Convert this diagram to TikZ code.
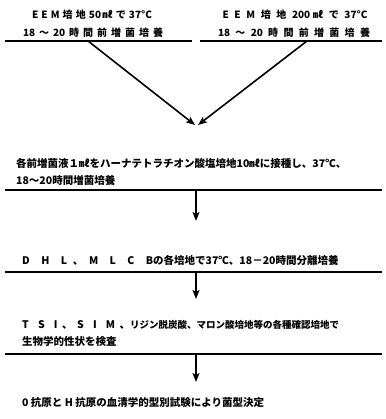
\documentclass[tikz,border=0pt]{standalone}
\usepackage{fontspec}
\newfontfamily\jp{Noto Sans CJK JP}
\usetikzlibrary{arrows.meta}
\newcommand{\spread}[2]{\makebox[#1][s]{#2}}
\begin{document}
\begin{tikzpicture}[x=1pt,y=-1pt,
  txt/.style={inner sep=0pt, anchor=west, font=\jp\bfseries\fontsize{10.5}{12}\selectfont},
  toptxt/.style={inner sep=0pt, anchor=center, font=\jp\bfseries\fontsize{10}{12}\selectfont},
  rule/.style={line width=1.6pt},
  flow/.style={line width=1.6pt, -{Stealth[length=9pt,width=7pt,inset=2pt]}}]
\useasboundingbox (0,0) rectangle (385,419);
% top left
\node[toptxt] (a1) at (92,15) {\spread{120pt}{E \ E \ M \ 培 \ 地 \ 50 ㎖ \ で \ 37°C}};
\node[toptxt] (a2) at (93,33) {\spread{140pt}{18 \ ～ \ 20 \ 時 \ 間 \ 前 \ 増 \ 菌 \ 培 \ 養}};
\coordinate (la) at (5,41); \coordinate (ra) at (192,41);
\draw[rule] (la) -- (ra);
% top right
\node[toptxt] (b1) at (295,15) {\spread{145pt}{E \ E \ M \ 培 \ 地 \ 200 ㎖ \ で \ 37°C}};
\node[toptxt] (b2) at (294,33) {\spread{152pt}{18 \ ～ \ 20 \ 時 \ 間 \ 前 \ 増 \ 菌 \ 培 \ 養}};
\coordinate (lb) at (200,41); \coordinate (rb) at (382,41);
\draw[rule] (lb) -- (rb);
% converging arrows
\coordinate (sa) at (88,41); \coordinate (sb) at (307,41);
\coordinate (ta) at (195,125); \coordinate (tb) at (198,125);
\draw[flow] (sa) -- (ta);
\draw[flow] (sb) -- (tb);
% block 2
\node[txt] (c1) at (16,163) {各前増菌液１㎖をハーナテトラチオン酸塩培地10㎖に接種し、37℃、};
\node[txt] (c2) at (16,180) {18～20時間増菌培養};
\coordinate (lc) at (5,190); \coordinate (rc) at (382,190);
\draw[rule] (lc) -- (rc);
\coordinate (sc) at (196,190); \coordinate (tc) at (196,221);
\draw[flow] (sc) -- (tc);
% block 3
\node[txt] (d1) at (22,260) {\spread{131pt}{D \ H \ L 、 M \ L \ C \ B}の各培地で37℃、18－20時間分離培養};
\coordinate (ld) at (5,272); \coordinate (rd) at (382,272);
\draw[rule] (ld) -- (rd);
\coordinate (sd) at (196,272); \coordinate (td) at (196,299);
\draw[flow] (sd) -- (td);
% block 4
\node[txt] (e1) at (22,325) {\spread{108pt}{T \ S \ I 、 S \ I \ M 、}{\fontsize{9.5}{12}\selectfont リジン脱炭酸、マロン酸培地等の各種確認培地で}};
\node[txt] (e2) at (22,342) {生物学的性状を検査};
\coordinate (le) at (5,354); \coordinate (re) at (382,354);
\draw[rule] (le) -- (re);
\coordinate (se) at (196,354); \coordinate (te) at (196,382);
\draw[flow] (se) -- (te);
% final
\node[txt] (f1) at (22,403) {0 抗原と H 抗原の血清学的型別試験により菌型決定};
\end{tikzpicture}
\end{document}
